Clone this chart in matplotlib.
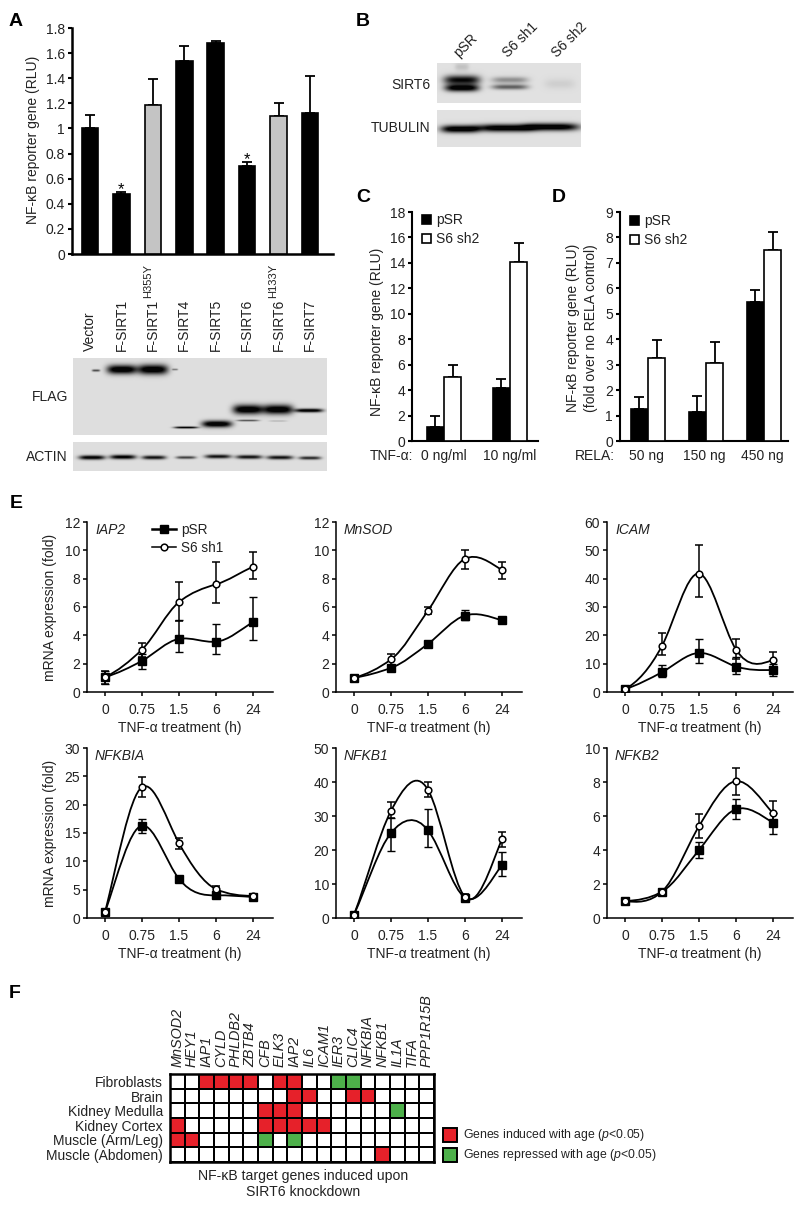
import numpy as np
import matplotlib
matplotlib.use("Agg")
import matplotlib.pyplot as plt
from matplotlib.lines import Line2D
from matplotlib.patches import Patch, PathPatch, Rectangle
from matplotlib.path import Path
from matplotlib.colors import ListedColormap

plt.rcParams['font.family'] = ['Liberation Sans', 'DejaVu Sans']
plt.rcParams['mathtext.fontset'] = 'custom'
plt.rcParams['mathtext.rm'] = 'Liberation Sans'
plt.rcParams['mathtext.it'] = 'Liberation Sans:italic'
plt.rcParams['mathtext.default'] = 'regular'
TXT = '#222222'
plt.rcParams['text.color'] = TXT
plt.rcParams['xtick.labelcolor'] = TXT
plt.rcParams['ytick.labelcolor'] = TXT
plt.rcParams['axes.labelcolor'] = TXT

W, H = 800, 1207
FS = 10

# ---------- Panel A ----------
a_labels = ['Vector', 'F-SIRT1', 'F-SIRT1', 'F-SIRT4', 'F-SIRT5', 'F-SIRT6', 'F-SIRT6', 'F-SIRT7']
a_sups = ['', '', 'H355Y', '', '', '', 'H133Y', '']
a_values = [1.0, 0.48, 1.19, 1.54, 1.68, 0.70, 1.10, 1.12]
a_tops = [1.11, 0.49, 1.39, 1.66, 1.70, 0.73, 1.20, 1.42]
a_mutant = [False, False, True, False, False, False, True, False]
a_star = [False, True, False, False, False, True, False, False]
a_ticks = [0, 0.2, 0.4, 0.6, 0.8, 1, 1.2, 1.4, 1.6, 1.8]
a_ticklabels = ['0', '0.2', '0.4', '0.6', '0.8', '1', '1.2', '1.4', '1.6', '1.8']

# ---------- Panel C ----------
c_groups = ['0 ng/ml', '10 ng/ml']
c_psr = [1.1, 4.2]
c_psr_top = [2.0, 4.9]
c_sh2 = [5.0, 14.1]
c_sh2_top = [6.0, 15.6]
c_ticks = [0, 2, 4, 6, 8, 10, 12, 14, 16, 18]

# ---------- Panel D ----------
d_groups = ['50 ng', '150 ng', '450 ng']
d_psr = [1.25, 1.15, 5.45]
d_psr_top = [1.72, 1.78, 5.95]
d_sh2 = [3.25, 3.05, 7.5]
d_sh2_top = [3.95, 3.88, 8.22]
d_ticks = [0, 1, 2, 3, 4, 5, 6, 7, 8, 9]

# ---------- Panel E ----------
e_times = ['0', '0.75', '1.5', '6', '24']

iap2_psr = [1.05, 2.2, 3.75, 3.55, 4.95]
iap2_psr_lo = [0.6, 1.65, 2.8, 2.7, 3.65]
iap2_psr_hi = [1.5, 2.7, 5.1, 4.8, 6.7]
iap2_sh1 = [1.05, 3.0, 6.35, 7.6, 8.85]
iap2_sh1_lo = [0.6, 2.5, 5.0, 6.3, 7.95]
iap2_sh1_hi = [1.5, 3.45, 7.8, 9.2, 9.9]

mnsod_psr = [1.0, 1.7, 3.4, 5.4, 5.05]
mnsod_psr_lo = [0.95, 1.55, 3.3, 5.1, 4.95]
mnsod_psr_hi = [1.05, 1.85, 3.5, 5.8, 5.15]
mnsod_sh1 = [1.0, 2.3, 5.75, 9.4, 8.6]
mnsod_sh1_lo = [0.9, 1.9, 5.5, 8.7, 8.0]
mnsod_sh1_hi = [1.1, 2.7, 6.0, 10.0, 9.2]

icam_psr = [1.0, 7.0, 13.8, 9.0, 7.8]
icam_psr_lo = [0.5, 5.3, 10.3, 6.5, 5.8]
icam_psr_hi = [1.5, 9.5, 18.6, 12.5, 10.0]
icam_sh1 = [1.0, 16.3, 41.8, 15.0, 11.4]
icam_sh1_lo = [0.5, 13.0, 33.6, 11.5, 9.0]
icam_sh1_hi = [1.5, 20.8, 52.0, 18.7, 14.2]

nfkbia_psr = [1.0, 16.3, 6.9, 4.0, 3.7]
nfkbia_psr_lo = [0.7, 15.0, 6.4, 3.6, 3.3]
nfkbia_psr_hi = [1.3, 17.5, 7.4, 4.4, 4.1]
nfkbia_sh1 = [1.0, 23.1, 13.2, 5.1, 3.9]
nfkbia_sh1_lo = [0.7, 21.4, 12.2, 4.6, 3.5]
nfkbia_sh1_hi = [1.3, 24.9, 14.2, 5.6, 4.3]

nfkb1_psr = [1.0, 25.0, 25.8, 6.0, 15.7]
nfkb1_psr_lo = [0.5, 19.8, 21.0, 5.2, 12.5]
nfkb1_psr_hi = [1.5, 29.5, 32.0, 7.0, 19.5]
nfkb1_sh1 = [1.0, 31.5, 37.7, 6.2, 23.3]
nfkb1_sh1_lo = [0.5, 29.5, 35.5, 5.5, 21.0]
nfkb1_sh1_hi = [1.5, 34.2, 39.9, 7.0, 25.3]

nfkb2_psr = [1.0, 1.55, 4.0, 6.4, 5.6]
nfkb2_psr_lo = [0.9, 1.4, 3.55, 5.85, 4.95]
nfkb2_psr_hi = [1.1, 1.7, 4.5, 7.0, 6.2]
nfkb2_sh1 = [1.0, 1.55, 5.4, 8.05, 6.15]
nfkb2_sh1_lo = [0.9, 1.4, 4.7, 7.25, 5.4]
nfkb2_sh1_hi = [1.1, 1.7, 6.1, 8.85, 6.9]

# ---------- Panel F ----------
f_genes = ['MnSOD2', 'HEY1', 'IAP1', 'CYLD', 'PHLDB2', 'ZBTB4', 'CFB', 'ELK3', 'IAP2', 'IL6',
           'ICAM1', 'IER3', 'CLIC4', 'NFKBIA', 'NFKB1', 'IL1A', 'TIFA', 'PPP1R15B']
f_tissues = ['Fibroblasts', 'Brain', 'Kidney Medulla', 'Kidney Cortex', 'Muscle (Arm/Leg)',
             'Muscle (Abdomen)']
# 0 = none, 1 = induced, 2 = repressed
f_fibro = [0, 0, 1, 1, 1, 1, 0, 1, 1, 0, 0, 2, 2, 0, 0, 0, 0, 0]
f_brain = [0, 0, 0, 0, 0, 0, 0, 0, 1, 1, 0, 0, 1, 1, 0, 0, 0, 0]
f_medulla = [0, 0, 0, 0, 0, 0, 1, 1, 1, 0, 0, 0, 0, 0, 0, 2, 0, 0]
f_cortex = [1, 0, 0, 0, 0, 0, 1, 1, 1, 1, 1, 0, 0, 0, 0, 0, 0, 0]
f_muscle_arm = [1, 1, 0, 0, 0, 0, 2, 0, 2, 0, 0, 0, 0, 0, 0, 0, 0, 0]
f_muscle_abd = [0, 0, 0, 0, 0, 0, 0, 0, 0, 0, 0, 0, 0, 0, 1, 0, 0, 0]

# ---------- Blot bands: centre x, half width, centre y, half height, strength ----------
flag_bands = [(96, 4, 370.5, 1.2, .55), (122, 15, 369.5, 4.6, 1.0), (153, 15, 369.5, 5.0, 1.0),
              (175, 3, 369.5, 1.0, .35), (186, 12, 427.5, 1.1, .85), (217, 15, 424, 3.4, 1.0),
              (248, 15, 409.5, 4.8, 1.0), (278, 15, 409.5, 4.8, 1.0), (309, 14, 410.5, 1.9, .95),
              (248, 11, 420.5, 1.0, .5), (278, 9, 421, .8, .15)]
actin_bands = [(92, 13, 457.5, 2.2, .9), (123, 13, 457, 2.2, .9), (154, 12, 457.5, 2, .8),
               (186, 10, 457.5, 1.5, .6), (218, 13, 456.5, 2, .8), (249, 13, 457, 2, .8),
               (280, 13, 457.5, 2, .8), (310, 11, 458, 1.7, .7)]
sirt6_bands = [(462, 18, 80, 4.6, .85), (462, 17, 88, 3.6, .95), (462, 7, 67, 4, .12),
               (510, 18, 80, 3.2, .32), (510, 18, 87, 2.6, .5),
               (560, 15, 84, 5, .07)]
tubulin_bands = [(460, 19, 129, 3.8, 1.0), (505, 28, 128, 3.8, 1.0), (552, 27, 127, 3.8, 1.0)]


def axpx(l, t, r, b, **kw):
    return fig.add_axes([l / W, 1 - b / H, (r - l) / W, (b - t) / H], **kw)


def figtext(x, y, s, **kw):
    kw.setdefault('fontsize', FS)
    kw.setdefault('ha', 'center')
    kw.setdefault('va', 'center')
    return fig.text(x / W, 1 - y / H, s, **kw)


def set_xpx(ax, l, r, p0, step):
    ax.set_xlim((l - p0) / step, (r - p0) / step)


def style(ax, lw=1.5, ticklen=3):
    for s in ('top', 'right'):
        ax.spines[s].set_visible(False)
    for s in ('left', 'bottom'):
        ax.spines[s].set_linewidth(lw)
    ax.tick_params(length=ticklen, width=lw, labelsize=FS, pad=2)
    ax.patch.set_alpha(0)


def blot(l, t, r, b, bands, bg=.86):
    ax = axpx(l, t, r, b)
    xs = np.arange(l, r) + .5
    ys = np.arange(t, b) + .5
    X, Y = np.meshgrid(xs, ys)
    dark = np.zeros_like(X)
    for cx, hw, cy, hh, s in bands:
        dark += s * np.exp(-((X - cx) / hw) ** 4) * np.exp(-((Y - cy) / hh) ** 2)
    img = bg * (1 - np.clip(dark * 1.15, 0, .98))
    ax.imshow(img, cmap='gray', vmin=0, vmax=1, aspect='auto', interpolation='bilinear',
              extent=(l, r, b, t))
    ax.axis('off')
    return ax


def smooth_path(ax, xv, yv, **kw):
    x = np.asarray(xv, float)
    y = np.asarray(yv, float)
    n = len(x)
    A = np.zeros((n, n))
    rhs = np.zeros(n)
    A[0, 0], A[0, 1], rhs[0] = 2, 1, 3 * (y[1] - y[0])
    A[-1, -1], A[-1, -2], rhs[-1] = 2, 1, 3 * (y[-1] - y[-2])
    for i in range(1, n - 1):
        A[i, i - 1], A[i, i], A[i, i + 1] = 1, 4, 1
        rhs[i] = 3 * (y[i + 1] - y[i - 1])
    m = np.linalg.solve(A, rhs) * .85
    verts = [(x[0], y[0])]
    codes = [Path.MOVETO]
    for i in range(n - 1):
        verts += [(x[i] + 1 / 3, y[i] + m[i] / 3), (x[i + 1] - 1 / 3, y[i + 1] - m[i + 1] / 3),
                  (x[i + 1], y[i + 1])]
        codes += [Path.CURVE4] * 3
    ax.add_patch(PathPatch(Path(verts, codes), fill=False, **kw))


fig = plt.figure(figsize=(W / 100, H / 100), dpi=100)

for lab, x, y in [('A', 16, 22), ('B', 363, 21), ('C', 363, 198), ('D', 559, 198),
                  ('E', 16, 504), ('F', 15, 993)]:
    figtext(x, y, lab, fontsize=14, fontweight='bold', color='black')

# Panel A
ax = axpx(72, 28, 333, 254)
set_xpx(ax, 72, 333, 90, 31.43)
pos = np.arange(len(a_values))
ax.bar(pos, a_values, width=.53, color=['#C4C4C4' if m else 'black' for m in a_mutant],
       edgecolor='black', linewidth=1.2, zorder=3)
ax.errorbar(pos, a_values, yerr=[np.zeros(8), np.array(a_tops) - np.array(a_values)], fmt='none',
            ecolor='black', elinewidth=1.3, capsize=3.6, capthick=1.3, zorder=2)
for p, top, st in zip(pos, a_tops, a_star):
    if st:
        ax.text(p, top - .04, '*', ha='center', va='bottom', fontsize=12, color='black')
ax.set_ylim(0, 1.8)
ax.set_yticks(a_ticks, a_ticklabels)
ax.set_xticks([])
style(ax)
ax.spines['left'].set_linewidth(1.8)
ax.spines['bottom'].set_linewidth(1.8)
figtext(33, 140, 'NF-\u03baB reporter gene (RLU)', rotation=90)
for p, lab, sup in zip(pos, a_labels, a_sups):
    figtext(90 + 31.43 * p, 351, lab, rotation=90, va='bottom')
    if sup:
        figtext(90 + 31.43 * p - 5, 298, sup, rotation=90, va='bottom', fontsize=8)

blot(73, 358, 327, 435, flag_bands, bg=.87)
blot(73, 442, 327, 471, actin_bands, bg=.87)
figtext(68, 397, 'FLAG', ha='right')
figtext(68, 457, 'ACTIN', ha='right')

# Panel B
blot(437, 63, 581, 103, sirt6_bands, bg=.88)
blot(437, 110, 581, 147, tubulin_bands, bg=.88)
figtext(430, 85, 'SIRT6', ha='right')
figtext(430, 128, 'TUBULIN', ha='right')
for x, s in [(461, 'pSR'), (510, 'S6 sh1'), (559, 'S6 sh2')]:
    figtext(x, 60, s, rotation=45, ha='left', va='bottom', rotation_mode='anchor')


def grouped(ax, groups, psr, psr_top, kd, kd_top, bw, capsize=3.4):
    n = np.arange(len(groups))
    psr, psr_top, kd, kd_top = map(np.array, (psr, psr_top, kd, kd_top))
    ax.bar(n - bw / 2, psr, bw, color='black', edgecolor='black', linewidth=1.2, zorder=3)
    ax.bar(n + bw / 2, kd, bw, color='white', edgecolor='black', linewidth=1.2, zorder=3)
    for off, v, t in ((-bw / 2, psr, psr_top), (bw / 2, kd, kd_top)):
        ax.errorbar(n + off, v, yerr=[np.zeros(len(v)), t - v], fmt='none', ecolor='black',
                    elinewidth=1.3, capsize=capsize, capthick=1.3, zorder=2)


def square_legend(ax, x, y, labels):
    hs = [Patch(facecolor='black', edgecolor='black', linewidth=1.2),
          Patch(facecolor='white', edgecolor='black', linewidth=1.2)]
    ax.legend(hs, labels, loc='upper left', bbox_to_anchor=(x / W, 1 - y / H),
              bbox_transform=fig.transFigure, frameon=False, fontsize=FS, borderpad=0,
              borderaxespad=0, handlelength=.62, handleheight=.62, handletextpad=.42,
              labelspacing=.38, labelcolor=TXT)


# Panel C
ax = axpx(412, 212, 538, 441)
set_xpx(ax, 412, 538, 444, 66)
grouped(ax, c_groups, c_psr, c_psr_top, c_sh2, c_sh2_top, 17.3 / 66)
ax.set_ylim(0, 18)
ax.set_yticks(c_ticks)
ax.set_xticks([])
style(ax)
square_legend(ax, 422, 213, ['pSR', 'S6 sh2'])
figtext(377, 332, 'NF-\u03baB reporter gene (RLU)', rotation=90)
figtext(413, 456, 'TNF-\u03b1:', ha='right')
for i, g in enumerate(c_groups):
    figtext(444 + 66 * i, 456, g)

# Panel D
ax = axpx(620, 212, 788, 441)
set_xpx(ax, 620, 788, 648, 58)
grouped(ax, d_groups, d_psr, d_psr_top, d_sh2, d_sh2_top, 17.3 / 58)
ax.set_ylim(0, 9)
ax.set_yticks(d_ticks)
ax.set_xticks([])
style(ax)
square_legend(ax, 630, 214, ['pSR', 'S6 sh2'])
figtext(582, 328, 'NF-\u03baB reporter gene (RLU)\n(fold over no RELA control)', rotation=90,
        linespacing=1.3)
figtext(595, 456, 'RELA:')
for i, g in enumerate(d_groups):
    figtext(646 + 58 * i, 456, g)

# Panel E
e_panels = [
    ('IAP2', 87, 273, 105, 522, 692, 12, range(0, 13, 2), True, iap2_psr, iap2_psr_lo, iap2_psr_hi,
     iap2_sh1, iap2_sh1_lo, iap2_sh1_hi),
    ('MnSOD', 336, 522, 354, 522, 692, 12, range(0, 13, 2), False, mnsod_psr, mnsod_psr_lo,
     mnsod_psr_hi, mnsod_sh1, mnsod_sh1_lo, mnsod_sh1_hi),
    ('ICAM', 607, 793, 625, 522, 692, 60, range(0, 61, 10), False, icam_psr, icam_psr_lo,
     icam_psr_hi, icam_sh1, icam_sh1_lo, icam_sh1_hi),
    ('NFKBIA', 87, 273, 105, 748, 918, 30, range(0, 31, 5), True, nfkbia_psr, nfkbia_psr_lo,
     nfkbia_psr_hi, nfkbia_sh1, nfkbia_sh1_lo, nfkbia_sh1_hi),
    ('NFKB1', 336, 522, 354, 748, 918, 50, range(0, 51, 10), False, nfkb1_psr, nfkb1_psr_lo,
     nfkb1_psr_hi, nfkb1_sh1, nfkb1_sh1_lo, nfkb1_sh1_hi),
    ('NFKB2', 607, 793, 625, 748, 918, 10, range(0, 11, 2), False, nfkb2_psr, nfkb2_psr_lo,
     nfkb2_psr_hi, nfkb2_sh1, nfkb2_sh1_lo, nfkb2_sh1_hi),
]
for (name, l, r, p0, t, b, ymax, yt, show_yl, ps, pl, ph, kd, kl, kh) in e_panels:
    ax = axpx(l, t, r, b)
    set_xpx(ax, l, r, p0, 37)
    xs = np.arange(5)
    ps, pl, ph, kd, kl, kh = map(np.array, (ps, pl, ph, kd, kl, kh))
    ax.set_ylim(0, ymax)
    smooth_path(ax, xs, ps, edgecolor='black', linewidth=1.3, zorder=2)
    smooth_path(ax, xs, kd, edgecolor='black', linewidth=1.3, zorder=2)
    ax.errorbar(xs, ps, yerr=[ps - pl, ph - ps], fmt='s', color='black', ms=5.8, mew=1,
                elinewidth=1.1, capsize=2.6, capthick=1.1, zorder=3)
    ax.errorbar(xs, kd, yerr=[kd - kl, kh - kd], fmt='o', color='black', mfc='white', ms=4.8,
                mew=1.1, elinewidth=1.1, capsize=2.6, capthick=1.1, zorder=4)
    ax.set_yticks(list(yt))
    ax.set_xticks(xs, e_times)
    style(ax, lw=1.1)
    ax.tick_params(axis='x', pad=5)
    ax.set_xlabel('TNF-\u03b1 treatment (h)', fontsize=FS, labelpad=3)
    figtext(l + 8, t + 8, name, ha='left', style='italic')
    if show_yl:
        figtext(50, (t + b) / 2, 'mRNA expression (fold)', rotation=90)
    if name == 'IAP2':
        hs = [Line2D([], [], color='black', lw=1.8, marker='s', ms=5.8),
              Line2D([], [], color='black', lw=1.1, marker='o', mfc='white', ms=4.8, mew=1.1)]
        ax.legend(hs, ['pSR', 'S6 sh1'], loc='upper left', bbox_to_anchor=(152 / W, 1 - 523 / H),
                  bbox_transform=fig.transFigure, frameon=False, fontsize=FS - .2, borderpad=0,
                  borderaxespad=0, handlelength=1.75, handletextpad=.38, labelspacing=.3,
                  labelcolor=TXT)

# Panel F
grid = np.array([f_fibro, f_brain, f_medulla, f_cortex, f_muscle_arm, f_muscle_abd])
ax = axpx(170, 1074, 434, 1162)
cmap = ListedColormap(['white', '#E6212A', '#4DB04A'])
ax.pcolormesh(np.arange(19), np.arange(7), grid, cmap=cmap, vmin=0, vmax=2, edgecolors='black',
              linewidth=1.2)
ax.set_xlim(0, 18)
ax.set_ylim(6, 0)
ax.set_xticks(np.arange(18) + .5, f_genes, rotation=90, style='italic', fontsize=10.4)
ax.set_yticks(np.arange(6) + .5, f_tissues, fontsize=10)
ax.xaxis.tick_top()
ax.tick_params(axis='x', length=0, pad=5)
ax.tick_params(axis='y', length=0, pad=5)
for s in ax.spines.values():
    s.set_linewidth(1.8)

key = [('#E6212A', 1128, 'Genes induced with age ($\\mathit{p}$<0.05)'),
       ('#4DB04A', 1148, 'Genes repressed with age ($\\mathit{p}$<0.05)')]
for col, y, s in key:
    fig.add_artist(Rectangle((443 / W, 1 - (y + 14) / H), 13.5 / W, 14 / H, facecolor=col,
                             edgecolor='black', linewidth=1.4, transform=fig.transFigure))
    figtext(463, y + 7, s, ha='left', fontsize=8.85)
figtext(303, 1184, 'NF-\u03baB target genes induced upon\nSIRT6 knockdown', fontsize=10.1, linespacing=1.2)

fig.savefig('out.png', dpi=100)
